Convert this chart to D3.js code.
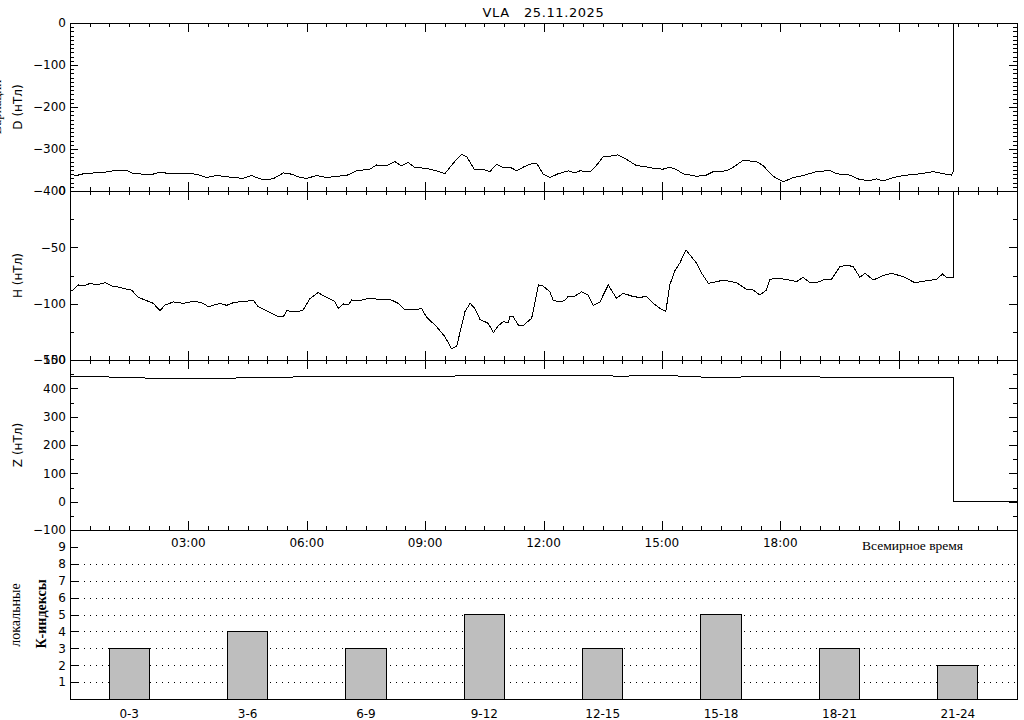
<!DOCTYPE html>
<html>
<head>
<meta charset="utf-8">
<script src="https://cdn.jsdelivr.net/npm/d3@7"></script>
<style>
  body { margin: 0; background: #fff; }
  svg { display: block; }
</style>
</head>
<body>
<div id="chart"></div>
<script>
// D component (nT)
const dHours = [0, 0.17, 0.38, 0.84, 1.10, 1.44, 1.56, 2.03, 2.24, 2.70,
  3.04, 3.21, 3.46, 3.72, 4.05, 4.39, 4.60, 4.73, 4.90, 5.15,
  5.41, 5.62, 5.83, 6.00, 6.25, 6.50, 6.76, 7.01, 7.26, 7.60,
  7.77, 8.02, 8.23, 8.40, 8.57, 8.74, 9.04, 9.29, 9.50, 9.71,
  9.92, 10.05, 10.26, 10.47, 10.64, 10.81, 10.98, 11.15, 11.32, 11.49,
  11.66, 11.83, 11.99, 12.16, 12.37, 12.63, 12.80, 12.92, 13.18, 13.35,
  13.51, 13.68, 13.89, 14.06, 14.36, 14.53, 14.78, 15.03, 15.20, 15.37,
  15.54, 15.88, 16.13, 16.30, 16.64, 16.77, 17.06, 17.40, 17.57, 17.82,
  18.08, 18.33, 18.58, 18.92, 19.26, 19.43, 19.76, 20.02, 20.27, 20.44,
  20.61, 20.86, 21.12, 21.54, 21.88, 22.13, 22.34, 22.38, 22.39, 24];
const dValues = [-360, -363, -358, -356, -352, -351, -357, -362, -356, -359,
  -359, -360, -368, -363, -367, -370, -363, -368, -373, -371,
  -357, -360, -368, -370, -363, -368, -365, -363, -352, -348,
  -338, -340, -330, -340, -332, -344, -346, -352, -359, -334,
  -313, -318, -350, -348, -354, -336, -344, -343, -352, -343,
  -336, -334, -360, -368, -359, -352, -357, -352, -354, -338,
  -319, -317, -314, -322, -340, -341, -346, -348, -343, -349,
  -359, -365, -362, -354, -352, -346, -327, -330, -340, -365,
  -378, -368, -363, -354, -351, -359, -362, -373, -375, -371,
  -376, -368, -363, -359, -354, -359, -362, -354, 0, 0];

// H component (nT)
const hHours = [0, 0.08, 0.21, 0.34, 0.51, 0.68, 0.89, 1.06, 1.27, 1.44,
  1.56, 1.73, 1.94, 2.11, 2.28, 2.41, 2.62, 2.87, 3.13, 3.34,
  3.51, 3.80, 3.97, 4.14, 4.39, 4.65, 4.77, 4.98, 5.24, 5.41,
  5.49, 5.74, 5.91, 6.08, 6.29, 6.50, 6.71, 6.80, 6.93, 7.05,
  7.14, 7.35, 7.52, 7.64, 7.85, 8.11, 8.32, 8.49, 8.70, 8.91,
  9.04, 9.29, 9.50, 9.67, 9.80, 9.92, 10.01, 10.14, 10.26, 10.39,
  10.60, 10.73, 10.85, 10.98, 11.11, 11.15, 11.23, 11.36, 11.47, 11.70,
  11.87, 11.99, 12.16, 12.25, 12.42, 12.54, 12.63, 12.80, 12.97, 13.13,
  13.26, 13.43, 13.64, 13.85, 14.02, 14.23, 14.40, 14.61, 14.78, 14.95,
  15.10, 15.20, 15.33, 15.46, 15.61, 15.75, 15.88, 16.01, 16.18, 16.39,
  16.56, 16.89, 17.15, 17.32, 17.48, 17.65, 17.74, 17.91, 18.16, 18.41,
  18.58, 18.75, 18.92, 19.13, 19.30, 19.51, 19.68, 19.85, 20.02, 20.15,
  20.36, 20.61, 20.82, 21.12, 21.41, 21.71, 21.96, 22.11, 22.21, 22.34,
  22.38, 22.39, 24];
const hValues = [-89.4, -87.9, -83.4, -84.3, -82.0, -83.4, -81.4, -84.3, -85.5, -87.3,
  -87.9, -94.4, -97.3, -99.7, -106.2, -101.2, -98.5, -99.7, -97.9, -99.1,
  -102.7, -99.7, -101.5, -99.1, -97.9, -97.3, -102.7, -106.2, -110.9, -111.5,
  -106.2, -107.4, -105.6, -95.6, -90.2, -94.4, -97.9, -104.1, -100.3, -101.2,
  -96.7, -97.3, -95.6, -95.0, -96.7, -96.2, -99.7, -105.6, -105.6, -104.4,
  -112.1, -120.4, -129.3, -139.9, -137.6, -120.4, -107.1, -99.7, -104.1, -113.9,
  -117.5, -125.7, -119.8, -116.0, -116.9, -110.9, -111.5, -118.9, -119.8, -113.0,
  -83.4, -84.3, -89.4, -97.3, -98.2, -97.3, -93.2, -93.2, -89.4, -92.3,
  -101.5, -98.5, -83.4, -95.3, -90.8, -93.2, -94.4, -93.8, -99.7, -104.1,
  -107.1, -83.4, -70.7, -63.6, -52.4, -58.3, -64.2, -73.1, -82.0, -80.5,
  -79.0, -81.4, -87.3, -87.9, -92.3, -87.9, -78.4, -77.5, -78.4, -80.5,
  -76.6, -81.4, -81.4, -78.4, -78.4, -67.2, -65.7, -67.2, -76.6, -73.1,
  -79.0, -74.9, -73.1, -76.0, -81.4, -79.6, -78.4, -73.7, -76.6, -76.6,
  -76.6, 0, 0];

// Z component (nT)
const zHours = [0, 1, 2, 3, 4, 5, 6, 7, 8, 9, 10, 11, 12, 13, 14, 15, 16, 17, 18, 19, 20, 21, 22, 22.38, 22.39, 24];
const zValues = [441, 440, 436, 435, 436, 438, 441, 442, 443, 442, 444, 446, 446, 445, 443, 446, 440, 440, 441, 440, 439, 437, 437, 437, 0, 0];

// local K indices per 3-hour interval
const kLabels = ['0-3', '3-6', '6-9', '9-12', '12-15', '15-18', '18-21', '21-24'];
const kValues = [3, 4, 3, 5, 3, 5, 3, 2];

const dTicks = [0, -100, -200, -300, -400];
const hTicks = [0, -50, -100, -150];
const zTicks = [500, 400, 300, 200, 100, 0, -100];
const kTicks = [1, 2, 3, 4, 5, 6, 7, 8, 9];
const kGrid = [1, 2, 3, 4, 5, 6, 7, 8];
const timeLabelHours = [3, 6, 9, 12, 15, 18];
const timeLabels = ['03:00', '06:00', '09:00', '12:00', '15:00', '18:00'];

const width = 1024, height = 720;
const left = 70, right = 1017;
const tickFont = 'DejaVu Sans';

const svg = d3.select('#chart')
    .append('svg')
    .attr('width', width)
    .attr('height', height)
    .attr('shape-rendering', 'crispEdges');

const x = d3.scaleLinear().domain([0, 24]).range([left, right]);

const majorHours = d3.range(3, 24, 3);
const minorHours = d3.range(0.5, 24, 0.5).filter(h => h % 3 !== 0);

const fmt = d => d < 0 ? '\u2212' + Math.abs(d) : String(d);

function styleAxis(g) {
    g.select('.domain').remove();
    g.selectAll('line').attr('stroke', '#000');
    g.selectAll('text')
        .attr('fill', '#000')
        .attr('font-family', tickFont)
        .attr('font-size', 12);
}

// y axes on left (labels) and right, ticks pointing inward
function yAxes(y, major, minor) {
    svg.append('g')
        .attr('transform', `translate(${left},0)`)
        .call(d3.axisLeft(y).tickValues(major).tickSize(-8).tickPadding(4).tickFormat(fmt))
        .call(styleAxis);
    svg.append('g')
        .attr('transform', `translate(${right},0)`)
        .call(d3.axisRight(y).tickValues(major).tickSize(-8).tickFormat(''))
        .call(styleAxis);
    if (minor.length) {
        svg.append('g')
            .attr('transform', `translate(${left},0)`)
            .call(d3.axisLeft(y).tickValues(minor).tickSize(-4).tickFormat(''))
            .call(styleAxis);
        svg.append('g')
            .attr('transform', `translate(${right},0)`)
            .call(d3.axisRight(y).tickValues(minor).tickSize(-4).tickFormat(''))
            .call(styleAxis);
    }
}

// time ticks on top and bottom edges of a panel
function timeAxes(top, bottom) {
    [[top, d3.axisBottom], [bottom, d3.axisTop]].forEach(([yy, axisFn]) => {
        svg.append('g')
            .attr('transform', `translate(0,${yy})`)
            .call(axisFn(x).tickValues(majorHours).tickSize(9).tickFormat(''))
            .call(styleAxis);
        svg.append('g')
            .attr('transform', `translate(0,${yy})`)
            .call(axisFn(x).tickValues(minorHours).tickSize(4).tickFormat(''))
            .call(styleAxis);
    });
}

function frame(top, bottom) {
    svg.append('rect')
        .attr('x', left).attr('y', top)
        .attr('width', right - left).attr('height', bottom - top)
        .attr('fill', 'none')
        .attr('stroke', '#000');
}

function linePanel(id, top, bottom, domain, hours, values, major, minor, label) {
    const y = d3.scaleLinear().domain(domain).range([bottom, top]);

    svg.append('clipPath').attr('id', id)
        .append('rect')
        .attr('x', left).attr('y', top)
        .attr('width', right - left).attr('height', bottom - top);

    const line = d3.line()
        .x((d, i) => x(hours[i]))
        .y(d => y(d));

    svg.append('path')
        .datum(values)
        .attr('clip-path', `url(#${id})`)
        .attr('fill', 'none')
        .attr('stroke', '#000')
        .attr('stroke-width', 1)
        .attr('d', line);

    frame(top, bottom);
    yAxes(y, major, minor);
    timeAxes(top, bottom);

    svg.append('text')
        .attr('transform', `translate(22,${(top + bottom) / 2}) rotate(-90)`)
        .attr('text-anchor', 'middle')
        .attr('font-family', tickFont)
        .attr('font-size', 12)
        .text(label);
}

// Title
svg.append('text')
    .attr('x', (left + right) / 2)
    .attr('y', 17)
    .attr('text-anchor', 'middle')
    .attr('font-family', tickFont)
    .attr('font-size', 13)
    .attr('letter-spacing', 0.6)
    .style('white-space', 'pre')
    .text('VLA   25.11.2025');

// outer label, mostly outside the picture at the left edge
svg.append('text')
    .attr('transform', 'translate(1,107) rotate(-90)')
    .attr('text-anchor', 'middle')
    .attr('font-family', 'Liberation Serif')
    .attr('font-size', 13)
    .text('Вариации');

linePanel('clipD', 23, 191, [-400, 0], dHours, dValues, dTicks, d3.range(-390, 0, 10).filter(v => v % 100 !== 0), 'D (нТл)');
linePanel('clipH', 191, 360, [-150, 0], hHours, hValues, hTicks, [-25, -75, -125], 'H (нТл)');
linePanel('clipZ', 360, 530, [-100, 500], zHours, zValues, zTicks, [450, 350, 250, 150, 50, -50], 'Z (нТл)');

// time labels under the Z panel
svg.append('g')
    .selectAll('text')
    .data(timeLabelHours)
    .enter()
    .append('text')
    .attr('x', d => x(d))
    .attr('y', 547)
    .attr('text-anchor', 'middle')
    .attr('font-family', tickFont)
    .attr('font-size', 12)
    .text((d, i) => timeLabels[i]);

svg.append('text')
    .attr('x', 862)
    .attr('y', 550)
    .attr('font-family', 'Liberation Serif')
    .attr('font-size', 13.5)
    .text('Всемирное время');

// K-index panel
const kTop = 530, kBottom = 699;
const xk = d3.scaleBand().domain(kLabels).range([left, right]).paddingInner(0.66).paddingOuter(0.33);
const yk = d3.scaleLinear().domain([0, 10]).range([kBottom, kTop]);

svg.append('g')
    .selectAll('line')
    .data(kGrid)
    .enter()
    .append('line')
    .attr('x1', left + 8)
    .attr('x2', right)
    .attr('y1', d => Math.round(yk(d)) + 0.5)
    .attr('y2', d => Math.round(yk(d)) + 0.5)
    .attr('stroke', '#000')
    .attr('stroke-dasharray', '1 5')
    .attr('shape-rendering', 'auto');

svg.append('g')
    .selectAll('rect')
    .data(kValues)
    .enter()
    .append('rect')
    .attr('x', (d, i) => xk(kLabels[i]))
    .attr('y', d => yk(d))
    .attr('width', xk.bandwidth())
    .attr('height', d => kBottom - yk(d))
    .attr('fill', '#bebebe')
    .attr('stroke', '#000');

frame(kTop, kBottom);

svg.append('g')
    .attr('transform', `translate(${left},0)`)
    .call(d3.axisLeft(yk).tickValues(kTicks).tickSize(-8).tickPadding(4).tickFormat(d3.format('d')))
    .call(styleAxis);

svg.append('g')
    .attr('transform', `translate(0,${kBottom})`)
    .call(d3.axisBottom(xk).tickSize(0).tickPadding(10))
    .call(styleAxis);

svg.append('text')
    .attr('transform', `translate(20,615) rotate(-90)`)
    .attr('text-anchor', 'middle')
    .attr('font-family', 'Liberation Serif')
    .attr('font-size', 14)
    .text('локальные');

svg.append('text')
    .attr('transform', `translate(46,614) rotate(-90)`)
    .attr('text-anchor', 'middle')
    .attr('font-family', 'Liberation Serif')
    .attr('font-weight', 'bold')
    .attr('font-size', 14)
    .text('К-индексы');
</script>
</body>
</html>
